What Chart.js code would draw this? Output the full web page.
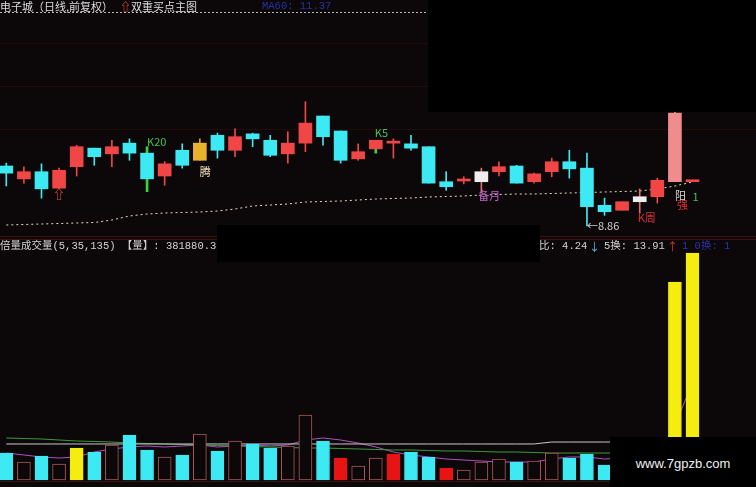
<!DOCTYPE html>
<html>
<head>
<meta charset="utf-8">
<script src="https://cdn.jsdelivr.net/npm/chart.js@4.4.0/dist/chart.umd.min.js"></script>
<style>
body { margin: 0; background: #0c0809; }
#wrap { position: relative; width: 756px; height: 487px; overflow: hidden; background: #0c0809; font-family: "Noto Sans CJK SC", sans-serif; }
canvas { position: absolute; left: 0; }
#cPrice { top: 0; }
#cVol { top: 237px; }
.t { position: absolute; font-size: 11px; line-height: 12px; white-space: nowrap; color: #dcdcdc; }
.m { font-family: "Liberation Mono", "Noto Sans CJK SC", monospace; font-size: 10.5px; }
.box { position: absolute; background: #000; }
#dots { position: absolute; left: 0; top: 12px; width: 428px; height: 1px;
        background: repeating-linear-gradient(90deg, #b8b8b8 0 2px, transparent 2px 4px); }
</style>
</head>
<body>
<div id="wrap">
  <canvas id="cPrice" width="756" height="237"></canvas>
  <canvas id="cVol" width="756" height="250"></canvas>

  <div id="dots"></div>
  <div class="t" style="left:0;top:0">电子城（日线,前复权）</div>
  <div class="t" style="left:120px;top:0;color:#e8502a;font-weight:bold">⇧</div>
  <div class="t" style="left:131px;top:0">双重买点主图</div>
  <div class="t m" style="left:262px;top:0;color:#2a30a8">MA60: 11.37</div>

  <div class="t m" style="left:0;top:240px;color:#d4d4d4">倍量成交量(5,35,135) 【量】: 381880.3</div>
  <div class="t m" style="left:539px;top:240px;color:#d4d4d4">比: 4.24</div>
  <div class="t" style="left:589px;top:240px;color:#58b4f0">↓</div>
  <div class="t m" style="left:604px;top:240px;color:#d4d4d4">5换: 13.91</div>
  <div class="t" style="left:667px;top:240px;color:#e03030">↑</div>
  <div class="t m" style="left:682px;top:240px;color:#2a30a8">1 0换: 1</div>

  <div class="box" style="left:428px;top:0;width:328px;height:112px"></div>
  <div class="box" style="left:217px;top:225px;width:323px;height:37px"></div>
  <div class="box" style="left:610px;top:437px;width:146px;height:50px"></div>
  <div class="t" style="left:610px;top:456px;width:146px;text-align:center;font:13px 'Liberation Sans',Arial,sans-serif;color:#f0f0f0">www.7gpzb.com</div>
</div>

<script>
// 日K数据 (40根)
const openP  = [9.70, 9.52, 9.62, 9.39, 9.69, 9.95, 9.87, 10.02, 9.88, 9.56,
                9.92, 9.78, 10.13, 9.92, 10.15, 10.06, 9.87, 10.02, 10.40, 10.19,
                9.80, 9.94, 10.02, 10.01, 9.97, 9.48, 9.49, 9.62, 9.62, 9.70,
                9.48, 9.62, 9.76, 9.67, 9.15, 9.08, 9.27, 9.27, 9.48, 9.48];
const highP  = [9.74, 9.69, 9.73, 9.67, 9.99, 9.95, 10.06, 10.08, 9.97, 9.76,
                10.01, 10.08, 10.16, 10.22, 10.16, 10.13, 10.18, 10.60, 10.40, 10.19,
                10.01, 10.06, 10.08, 10.13, 9.97, 9.62, 9.55, 9.67, 9.76, 9.71,
                9.60, 9.81, 9.92, 9.88, 9.25, 9.20, 9.38, 9.53, 10.46, 9.49];
const lowP   = [9.42, 9.46, 9.25, 9.38, 9.56, 9.71, 9.69, 9.78, 9.34, 9.43,
                9.67, 9.78, 9.81, 9.83, 9.97, 9.83, 9.74, 9.90, 9.99, 9.74,
                9.78, 9.88, 9.81, 9.92, 9.46, 9.36, 9.45, 9.32, 9.56, 9.46,
                9.46, 9.55, 9.53, 8.86, 9.01, 9.08, 9.04, 9.18, 9.48, 9.48];
const closeP = [9.60, 9.62, 9.38, 9.64, 9.97, 9.83, 9.97, 9.88, 9.52, 9.73,
                9.71, 10.02, 9.92, 10.11, 10.08, 9.85, 10.02, 10.30, 10.11, 9.78,
                9.90, 10.06, 10.04, 9.95, 9.46, 9.41, 9.51, 9.48, 9.69, 9.46,
                9.59, 9.76, 9.66, 9.13, 9.06, 9.20, 9.20, 9.50, 10.44, 9.49];
// U 阳, D 阴, Y 黄K, W 白K, P 涨停
const candleTag = ['D','U','D','U','U','D','U','D','D','U',
                   'D','Y','D','U','D','D','U','U','D','D',
                   'U','U','U','D','D','D','U','W','U','D',
                   'U','U','D','D','D','U','W','U','P','U'];
const signalIdx = [8, 21];   // K20, K5
const maPrice = [8.874, 8.881, 8.888, 8.895, 8.902, 8.909, 8.944, 9.000, 9.028, 9.042,
                 9.049, 9.056, 9.070, 9.098, 9.140, 9.154, 9.168, 9.196, 9.203, 9.210,
                 9.224, 9.238, 9.245, 9.252, 9.266, 9.273, 9.280, 9.294, 9.301, 9.308,
                 9.308, 9.315, 9.322, 9.329, 9.336, 9.343, 9.350, 9.378, 9.420, 9.476];

// 成交量
const volume = [45400, 30300, 40400, 26900, 53800, 47100, 58900, 75700, 50500, 38700,
                42100, 77400, 48800, 65600, 60600, 53800, 57200, 109400, 65600, 37000,
                23600, 37000, 43700, 47100, 38700, 20200, 16800, 30300, 35300, 30300,
                32000, 45400, 37000, 43700, 25200, 28000, 33000, 40000, 333100, 381880];
// D 阴量, U 阳量(空心), S 倍量, X 红量
const volTag = ['D','U','D','U','S','D','U','D','D','U',
                'D','U','D','U','D','D','U','U','D','X',
                'U','U','X','D','D','X','U','U','U','D',
                'U','U','D','D','D','U','U','U','S','S'];
const volMa5 = [45400, 42100, 38700, 37000, 38700, 47100, 52200, 55500, 57200, 55500,
                57200, 58900, 55500, 57200, 58900, 57200, 58900, 67300, 70700, 67300,
                62200, 55500, 47100, 42100, 38700, 35300, 33600, 32000, 30300, 30300,
                30300, 35300, 38700, 38700, 35300, 37000, 35300, 38700, 92500, 163200];
const volMa35 = [70700, 69800, 69000, 67300, 65600, 64800, 63900, 62200, 61400, 60600,
                 59700, 58900, 58000, 57200, 56400, 55500, 54700, 53800, 53800, 53000,
                 52200, 51300, 50500, 50500, 49600, 48800, 48800, 47900, 47100, 47100,
                 46300, 45400, 45400, 45400, 45400, 45400, 45400, 45400, 54700, 65600];
const volMa135 = [60600, 60600, 60600, 60600, 60600, 60600, 60600, 60600, 60600, 60600,
                  60600, 60600, 60600, 60600, 60600, 60600, 60600, 60600, 60600, 60600,
                  60600, 60600, 60600, 60600, 60600, 60600, 60600, 60600, 60600, 60600,
                  60600, 63900, 63900, 63900, 63900, 63900, 63900, 63900, 65600, 67300];

// 标注
const priceNotes = [
    { i: 3,  at: 'low',  text: '⇧',     color: '#e8502a', dx: 0,  dy: 6,  align: 'center', bold: true },
    { i: 8,  at: 'high', text: 'K20',   color: '#44c444', dx: 0,  dy: -5, align: 'left' },
    { i: 11, at: 'low',  text: '腾',    color: '#f0e0b8', dx: 0,  dy: 12, align: 'left' },
    { i: 21, at: 'high', text: 'K5',    color: '#50c050', dx: -1, dy: -7, align: 'left' },
    { i: 27, at: 'low',  text: '备月',  color: '#c060c8', dx: -3, dy: 3,  align: 'left' },
    { i: 33, at: 'low',  text: '←8.86', color: '#d0d0d0', dx: 0,  dy: 0,  align: 'left' },
    { i: 36, at: 'low',  text: 'K周',   color: '#e03030', dx: -2, dy: 5,  align: 'left' },
    { i: 38, at: 'low',  text: '阳',    color: '#dadada', dx: 0,  dy: 14, align: 'left' },
    { i: 38, at: 'low',  text: '强',    color: '#e03030', dx: 2,  dy: 23, align: 'left' },
    { i: 39, at: 'low',  text: '1',     color: '#44c444', dx: 0,  dy: 15, align: 'left' }
];

const BG = '#0c0809';
const bodyColor = { U: '#f04646', D: '#3de9f2', Y: '#e8b22c', W: '#eeeeee', P: '#f08c8c' };
const wickColor = { U: '#f04646', D: '#3de9f2', Y: '#e09a20', W: '#e06a6a', P: '#f08c8c' };
const volFill   = { D: '#3de9f2', U: BG, S: '#f5ec10', X: '#e81414' };
const volLine   = { D: '#3de9f2', U: '#a85858', S: '#f5ec10', X: '#e81414' };

const xScale = { type: 'linear', display: false, offset: false, bounds: 'data', min: -0.358, max: 42.609 };

const bodies = openP.map((o, i) => ({ x: i, y: [o, closeP[i]] }));
const wicks = [];
const sigWicks = [];
const plainWickColors = [];
highP.forEach((h, i) => {
    const pt = { x: i, y: [lowP[i], h] };
    if (signalIdx.includes(i)) {
        sigWicks.push(pt);
    } else {
        wicks.push(pt);
        plainWickColors.push(wickColor[candleTag[i]]);
    }
});

const pricePlugin = {
    id: 'priceDeco',
    beforeDatasetsDraw(chart) {
        const ctx = chart.ctx;
        ctx.save();
        ctx.strokeStyle = '#240b0b';
        ctx.lineWidth = 1;
        [43.5, 86.5, 129.5].forEach(y => {
            ctx.beginPath(); ctx.moveTo(0, y); ctx.lineTo(756, y); ctx.stroke();
        });
        ctx.strokeStyle = '#3a1212';
        ctx.beginPath(); ctx.moveTo(0, 236.5); ctx.lineTo(756, 236.5); ctx.stroke();
        ctx.restore();
    },
    afterDatasetsDraw(chart) {
        const ctx = chart.ctx;
        const xs = chart.scales.x, ys = chart.scales.y;
        ctx.save();
        ctx.textBaseline = 'middle';
        priceNotes.forEach(n => {
            const px = xs.getPixelForValue(n.i) + n.dx;
            const py = ys.getPixelForValue(n.at === 'high' ? highP[n.i] : lowP[n.i]) + n.dy;
            ctx.font = (n.bold ? 'bold 12px' : '11px') + ' "Noto Sans CJK SC", sans-serif';
            ctx.fillStyle = n.color;
            ctx.textAlign = n.align;
            ctx.fillText(n.text, px, py);
        });
        ctx.restore();
    }
};

new Chart(document.getElementById('cPrice'), {
    type: 'bar',
    data: {
        datasets: [
            { type: 'bar', data: bodies, backgroundColor: candleTag.map(t => bodyColor[t]),
              borderWidth: 0, barThickness: 13, minBarLength: 2, grouped: false, order: 0 },
            { type: 'bar', data: wicks, backgroundColor: plainWickColors,
              borderWidth: 0, barThickness: 1, grouped: false, order: 1 },
            { type: 'bar', data: sigWicks, backgroundColor: '#3cd23c',
              borderWidth: 0, barThickness: 2, grouped: false, order: 1 },
            { type: 'line', data: maPrice.map((v, i) => ({ x: i, y: v })), borderColor: '#e6dcc0',
              borderWidth: 1, borderDash: [2, 3], pointRadius: 0, tension: 0, order: 3 }
        ]
    },
    options: {
        responsive: false,
        animation: false,
        devicePixelRatio: 1,
        layout: { padding: 0 },
        plugins: { legend: { display: false }, tooltip: { enabled: false } },
        scales: {
            x: xScale,
            y: { display: false, min: 8.706, max: 12.024 }
        }
    },
    plugins: [pricePlugin]
});

const volPlugin = {
    id: 'volDeco',
    beforeDatasetsDraw(chart) {
        const ctx = chart.ctx;
        ctx.save();
        ctx.strokeStyle = '#3a1212';
        ctx.lineWidth = 1;
        ctx.beginPath(); ctx.moveTo(0, 2.5); ctx.lineTo(756, 2.5); ctx.stroke();
        ctx.beginPath(); ctx.moveTo(0, 244.5); ctx.lineTo(756, 244.5); ctx.stroke();
        ctx.restore();
    }
};

const lineDs = (arr, color) => ({
    type: 'line', data: arr.map((v, i) => ({ x: i, y: v })), borderColor: color,
    borderWidth: 1, pointRadius: 0, tension: 0, order: 2
});

new Chart(document.getElementById('cVol'), {
    type: 'bar',
    data: {
        datasets: [
            { type: 'bar', data: volume.map((v, i) => ({ x: i, y: v })),
              backgroundColor: volTag.map(t => volFill[t]), borderColor: volTag.map(t => volLine[t]),
              borderWidth: 1, borderSkipped: false, barThickness: 13, grouped: false, order: 0 },
            lineDs(volMa135, '#c8c8c8'),
            lineDs(volMa35, '#3c9a3c'),
            lineDs(volMa5, '#b050c0')
        ]
    },
    options: {
        responsive: false,
        animation: false,
        devicePixelRatio: 1,
        layout: { padding: 0 },
        plugins: { legend: { display: false }, tooltip: { enabled: false } },
        scales: {
            x: xScale,
            y: { display: false, min: -11776, max: 408800 }
        }
    },
    plugins: [volPlugin]
});
</script>
</body>
</html>
